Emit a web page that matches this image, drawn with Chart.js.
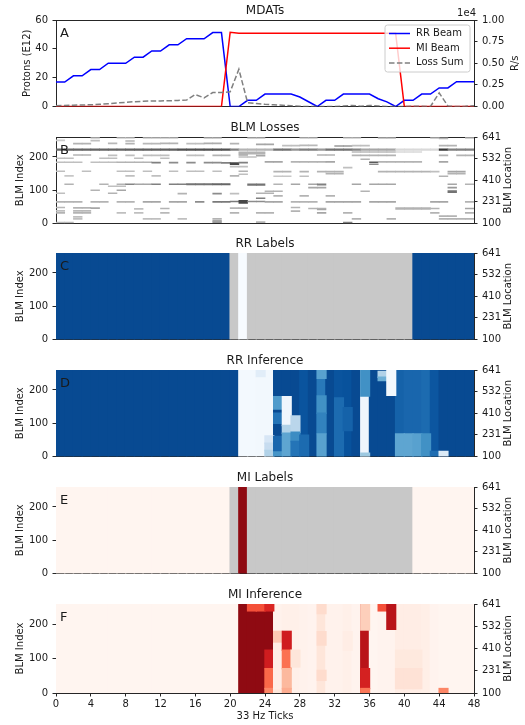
<!DOCTYPE html>
<html>
<head>
<meta charset="utf-8">
<script src="https://cdn.jsdelivr.net/npm/chart.js@4"></script>
<style>
  html, body { margin: 0; padding: 0; background: #ffffff; }
  #wrap { position: relative; width: 525px; height: 725px; overflow: hidden; }
  #wrap canvas { position: absolute; left: 0; }
</style>
</head>
<body>
<div id="wrap"></div>
<script>
// ---------------- data ----------------
const X_TICKS = [0, 4, 8, 12, 16, 20, 24, 28, 32, 36, 40, 44, 48];

// MDATs, one sample per 33 Hz tick (0..48)
const RR_BEAM = [17, 17, 21.3, 21.3, 25.6, 25.6, 30, 30, 30, 34.2, 34.2, 38.5, 38.5, 42.8, 42.8, 47, 47, 47, 51.3, 51.3,
  0, 0, 4.3, 4.3, 8.6, 8.6, 8.6, 8.6, 6.6, 3.3,
  0, 4.3, 4.3, 8.6, 8.6, 8.6, 8.6, 5.4, 3.2, 0,
  4.3, 4.3, 8.6, 8.6, 12.9, 12.9, 17.2, 17.2, 17.2];
const MI_BEAM = [0, 0, 0, 0, 0, 0, 0, 0, 0, 0, 0, 0, 0, 0, 0, 0, 0, 0, 0, 0,
  51.5, 50.8, 50.8, 50.8, 50.8, 50.8, 50.8, 50.8, 50.8, 50.8,
  50.8, 50.8, 50.8, 50.8, 50.8, 50.8, 50.8, 50.8, 50.8, 50.8,
  0, 0, 0, 0, 0, 0, 0, 0, 0];
const LOSS_SUM = [100, 120, 150, 180, 200, 250, 320, 400, 480, 560,
  600, 640, 650, 660, 700, 750, 1380, 1000, 1620, 1620,
  1700, 4300, 450, 350, 260, 200, 150, 80, 20, 0,
  0, 0, 0, 60, 120, 40, 120, 60, 0, 0,
  0, 30, 20, 0, 1570, 60, 0, 20, 100];
const PROTON_TICKS = [0, 20, 40, 60];
const RATE_TICKS = [0, 2500, 5000, 7500, 10000];

// BLM axes
const N_BLM = 260;
const BLM_INDEX_TICKS = [0, 100, 200];
const BLM_LOCATION_POS = [0, 65, 130, 195, 260];
const BLM_LOCATION_LABELS = ['100', '231', '410', '532', '641'];

// per-tick labels (null = masked tick)
const RR_LABELS = [1, 1, 1, 1, 1, 1, 1, 1, 1, 1, 1, 1, 1, 1, 1, 1, 1, 1, 1, 1,
  null, 0, null, null, null, null, null, null, null, null,
  null, null, null, null, null, null, null, null, null, null,
  null, 1, 1, 1, 1, 1, 1, 1];
const MI_LABELS = [0, 0, 0, 0, 0, 0, 0, 0, 0, 0, 0, 0, 0, 0, 0, 0, 0, 0, 0, 0,
  null, 1, null, null, null, null, null, null, null, null,
  null, null, null, null, null, null, null, null, null, null,
  null, 0, 0, 0, 0, 0, 0, 0];

// inference: column level + [tick, fromIndex, toIndex, value] bands
const RR_INF_BASE = [1, 1, 1, 1, 1, 1, 1, 1, 1, 1, 1, 1, 1, 1, 1, 1, 1, 1, 1, 1, 1,
  0.02, 0.02, 0.03, 0.03, 1, 1, 1, 0.96, 1, 0.8, 1, 0.96, 0.97, 1, 0.05,
  1, 1, 1, 0.9, 0.88, 0.88, 0.86, 0.95, 1, 1, 1, 1];
const RR_INF_BANDS = [
  [23, 240, 260, 0.12],
  [24, 40, 62, 0.18], [24, 18, 40, 0.27], [24, 0, 18, 0.35],
  [25, 143, 180, 0.65], [25, 100, 130, 0.82], [25, 14, 60, 0.88], [25, 0, 14, 0.68],
  [26, 93, 180, 0.04], [26, 70, 93, 0.35], [26, 0, 70, 0.6],
  [27, 73, 122, 0.32], [27, 45, 73, 0.72], [27, 0, 45, 0.82],
  [28, 0, 64, 0.86],
  [30, 235, 260, 0.62], [30, 130, 182, 0.7], [30, 68, 130, 0.76], [30, 0, 68, 0.62],
  [32, 0, 176, 0.86],
  [33, 78, 147, 0.9],
  [35, 182, 260, 0.7], [35, 0, 10, 0.42],
  [37, 238, 256, 0.35], [37, 228, 238, 0.55],
  [38, 184, 260, 0.03],
  [39, 0, 68, 0.6], [40, 0, 68, 0.6], [41, 0, 68, 0.62], [42, 0, 68, 0.7],
  [43, 0, 15, 0.85],
  [44, 0, 15, 0.15]
];
const MI_INF_BASE = [0, 0, 0, 0, 0, 0, 0, 0, 0, 0, 0, 0, 0, 0, 0, 0, 0, 0, 0, 0, 0,
  1, 1, 1, 1, 0.02, 0.03, 0.03, 0.02, 0.01, 0.1, 0.02, 0.02, 0.03, 0.01, 0.88,
  0, 0.01, 0.01, 0.05, 0.05, 0.05, 0.04, 0.01, 0, 0, 0, 0];
const MI_INF_BANDS = [
  [22, 240, 260, 0.62], [23, 240, 260, 0.62],
  [24, 240, 260, 0.76], [24, 71, 125, 0.8], [24, 13, 71, 0.55], [24, 0, 13, 0.45],
  [25, 145, 180, 0.22], [25, 8, 145, 0.05], [25, 0, 8, 0.1],
  [26, 125, 180, 0.8], [26, 71, 125, 0.52], [26, 13, 71, 0.28], [26, 0, 13, 0.32],
  [27, 76, 125, 0.1],
  [30, 232, 260, 0.15], [30, 140, 179, 0.15], [30, 37, 66, 0.15],
  [33, 125, 179, 0.05],
  [35, 184, 260, 0.2], [35, 13, 71, 0.78], [35, 0, 13, 0.5],
  [37, 240, 260, 0.62],
  [38, 186, 260, 0.88],
  [39, 66, 125, 0.08], [40, 66, 125, 0.08], [41, 66, 125, 0.08],
  [39, 13, 71, 0.12], [40, 13, 71, 0.12], [41, 13, 71, 0.12],
  [44, 0, 13, 0.45]
];

// BLM losses: [blmIndex, fromTick, toTick, level, thickness]
const BLM_LOSS_SEGMENTS = [
  [257,4,5,.22],[257,7,9,.2],[257,10,14,.22],[257,17,19,.25],[257,22,24,.25],[257,28,30,.22],[257,33,35,.2],
  [257,37,39,.28],[257,43,44,.25],[256,44,45,.3],[257,47,48,.25],
  [249,4,5,.25],[248,8,9,.3],[250,0,1,.2],
  [240,2,4,.3],[241,6,7,.28],[240,8,9,.3],[240,10,12,.28],[241,12,14,.3],[240,15,17,.25],[241,17,19,.32],
  [240,20,21,.3],[238,23,25,.35],[234,26,28,.25],[235,28,30,.28],[233,32,34,.4],[234,34,36,.25],[234,44,46,.3],
  [222,0,8,.6,5],[222,8,14,.62,5],[222,14,20,.68,5],[222,20,21,.5,5],[222,21,25,.3,5],[222,25,27,.55,5],
  [222,27,28,.42,5],[222,28,30,.5,5],[222,30,31,.4,5],[222,31,34,.55,5],[222,34,35,.48,5],[222,35,39,.35,5],
  [222,39,44,.15,5],[222,44,45,.78,5],[222,45,48,.5,5],
  [214,21,24,.3],[215,34,39,.28],[215,39,42,.15],
  [210,21,24,.3],[206,2,4,.3],[205,6,7,.25],[205,8,9,.25],[205,10,13,.25],[205,15,17,.25],[205,18,20,.3],
  [206,21,22,.35],[204,23,24,.35],[206,30,32,.3],[205,34,39,.3],[205,44,45,.3],[205,46,48,.3],[200,21,23,.25],
  [196,0,2,.25],[196,5,7,.25],[196,9,10,.25],[196,12,13,.25],[193,35,36,.3],
  [184,0,3,.25],[184,4,7,.25],[184,7,11,.3],[183,11,12,.5],[183,13,14,.45],[183,15,16,.45],[183,17,19,.45],
  [182,19,20,.5],[180,20,21,.72,6],[183,21,22,.5],[185,24,26,.35],[185,27,29,.3],[185,29,31,.3],[185,31,32,.35],
  [184,36,37,.65],[178,36,37,.45],[185,37,39,.3],[185,39,42,.3],[185,44,45,.35],
  [171,20,22,.25],[168,33,34,.25],
  [157,0,1,.25],[157,3,4,.25],[157,7,9,.25],[157,10,11,.25],[157,13,14,.25],[157,15,17,.25],[157,18,19,.25],
  [157,21,22,.3],[156,25,27,.3],[156,28,29,.3],[156,30,33,.3],[156,37,39,.3],[156,39,43,.3],[156,43,44,.25],
  [156,45,47,.35],
  [150,31,33,.3],[150,45,47,.3],[148,21,22,.25],
  [143,1,2,.22],[143,8,9,.25],[143,11,12,.25],[143,20,21,.3],[142,25,27,.22],[142,28,29,.25],[142,44,45,.3],
  [118,1,2,.3],[118,5,6,.3],[118,7,8,.3],[118,8,9,.48],[118,9,11,.35],[118,11,12,.5],[118,13,15,.5],
  [118,15,18,.55,4],[118,18,20,.6,4],[117,22,24,.55,5],[118,25,26,.3],[118,27,28,.35],[118,29,30,.35],
  [117,30,31,.5,4],[118,34,35,.35],[118,36,39,.35],[118,45,46,.35],[118,47,48,.3],
  [112,6,8,.25],[108,29,31,.35],[108,45,46,.4],
  [100,4,5,.3],[100,7,8,.35],[97,24,26,.3],[97,35,36,.3],[96,45,46,.55,6],
  [91,0,1,.25],[91,6,7,.3],[90,14,15,.3],[90,18,19,.45],[90,20,21,.25],[91,23,25,.3],
  [83,25,26,.3],[83,28,29,.3],[83,31,32,.3],[76,23,24,.5],
  [65,0,3,.3],[65,4,6,.3],[65,7,9,.3],[65,10,12,.35],[65,13,15,.35],[65,16,17,.45],[65,18,20,.52],
  [66,20,21,.52],[65,21,22,.72,9],[66,22,24,.45],[65,24,26,.35],[65,27,30,.3],[65,31,35,.35],[65,36,39,.35],
  [65,43,45,.35],[65,47,48,.3],
  [48,0,1,.28],[47,2,4,.3],[46,4,5,.35],[44,9,10,.25],[45,12,13,.3],[46,20,22,.3],[48,27,28,.3],[45,29,31,.3],
  [42,30,31,.35],[45,39,43,.3,5],[45,43,44,.3],[45,47,48,.35],
  [38,0,1,.25],[38,2,4,.28],[37,27,28,.3],
  [32,0,1,.3],[32,2,4,.3],[32,7,8,.25],[32,9,10,.25],[32,12,13,.28],[32,20,21,.3],[32,23,25,.3],[32,30,31,.35],
  [32,33,34,.3],[32,43,44,.3],[32,47,48,.3],
  [22,44,46,.3],[20,2,3,.25],
  [14,2,3,.25],[14,10,12,.25],[14,14,15,.25],[14,18,19,.3],[14,34,35,.3],[14,38,39,.3],[14,44,48,.3],
  [8,18,19,.35],[4,18,19,.4],[4,23,24,.3],[3,33,34,.5],[3,0,2,.28]
];

// ---------------- colour maps ----------------
const BLUES = ['#f7fbff', '#deebf7', '#c6dbef', '#9ecae1', '#6baed6', '#4292c6', '#2171b5', '#08519c', '#08306b'];
const REDS = ['#fff5f0', '#fee0d2', '#fcbba1', '#fc9272', '#fb6a4a', '#ef3b2c', '#cb181d', '#a50f15', '#67000d'];
const MASKED = '#c8c8c8';

function hexToRgb(h) { return [1, 3, 5].map(i => parseInt(h.substr(i, 2), 16)); }
function ramp(stops, t) {
  t = Math.max(0, Math.min(1, t));
  const p = t * (stops.length - 1), i = Math.min(Math.floor(p), stops.length - 2), f = p - i;
  const a = hexToRgb(stops[i]), b = hexToRgb(stops[i + 1]);
  return 'rgb(' + a.map((v, k) => Math.round(v + (b[k] - v) * f)).join(',') + ')';
}
const bluesColor = v => v == null ? MASKED : ramp(BLUES, v * 0.9);
const redsColor = v => v == null ? MASKED : ramp(REDS, v * 0.92);
const greyColor = v => { const g = Math.round(255 * (1 - v)); return `rgb(${g},${g},${g})`; };

// ---------------- cell builders ----------------
function columnCells(base, bands) {
  const cells = [];
  base.forEach((v, c) => cells.push({ x: c + 0.5, y: [0, N_BLM], v }));
  bands.forEach(([c, r0, r1, v]) => cells.push({ x: c + 0.5, y: [r0, r1], v }));
  return cells;
}
function segmentCells(segs) {
  const cells = [];
  segs.forEach(([row, c0, c1, v, h = 3]) => {
    for (let c = c0; c < c1; c++) cells.push({ x: c + 0.5, y: [row - h / 2, row + h / 2], v });
  });
  return cells;
}

// ---------------- drawing helpers ----------------
const FONT = '"DejaVu Sans", sans-serif';
const INK = '#1a1a1a';
const SPINE = '#262626';
Chart.defaults.font.family = FONT;
Chart.defaults.font.size = 10;
Chart.defaults.color = INK;

function rotatedText(ctx, text, x, y) {
  ctx.save();
  ctx.translate(x, y);
  ctx.rotate(-Math.PI / 2);
  ctx.textAlign = 'center';
  ctx.textBaseline = 'middle';
  ctx.fillText(text, 0, 0);
  ctx.restore();
}

const decor = {
  id: 'decor',
  afterDraw(chart, args, o) {
    const { ctx, chartArea: a } = chart;
    ctx.save();
    ctx.fillStyle = INK;
    ctx.textBaseline = 'alphabetic';
    ctx.textAlign = 'center';
    ctx.font = `12px ${FONT}`;
    ctx.fillText(o.title, (a.left + a.right) / 2, a.top - 6);
    ctx.textAlign = 'left';
    ctx.font = `13px ${FONT}`;
    ctx.fillText(o.letter, a.left + 4, a.top + 16.5);
    ctx.font = `10px ${FONT}`;
    rotatedText(ctx, o.leftTitle, o.leftTitleX, (a.top + a.bottom) / 2);
    rotatedText(ctx, o.rightTitle, o.rightTitleX, (a.top + a.bottom) / 2);
    if (o.offsetText) {
      ctx.textAlign = 'right';
      ctx.fillText(o.offsetText, a.right + 2, a.top - 4);
    }
    if (o.xTitle) {
      ctx.textAlign = 'center';
      ctx.fillText(o.xTitle, (a.left + a.right) / 2, a.bottom + 26);
    }
    ctx.restore();
  }
};

const beamLegend = {
  id: 'beamLegend',
  afterDatasetsDraw(chart) {
    const { ctx, chartArea: a } = chart;
    const w = 85, h = 47, x = a.right - w - 4, y = a.top + 5, r = 2.5;
    ctx.save();
    ctx.beginPath();
    ctx.moveTo(x + r, y);
    ctx.arcTo(x + w, y, x + w, y + h, r);
    ctx.arcTo(x + w, y + h, x, y + h, r);
    ctx.arcTo(x, y + h, x, y, r);
    ctx.arcTo(x, y, x + w, y, r);
    ctx.closePath();
    ctx.fillStyle = 'rgba(255,255,255,0.8)';
    ctx.fill();
    ctx.strokeStyle = '#cccccc';
    ctx.lineWidth = 1;
    ctx.stroke();
    chart.data.datasets.forEach((ds, i) => {
      const cy = y + 8.5 + i * 14.7;
      ctx.strokeStyle = ds.borderColor;
      ctx.lineWidth = ds.borderWidth;
      ctx.setLineDash(ds.borderDash || []);
      ctx.beginPath();
      ctx.moveTo(x + 4, cy);
      ctx.lineTo(x + 25, cy);
      ctx.stroke();
      ctx.setLineDash([]);
      ctx.fillStyle = INK;
      ctx.font = `10px ${FONT}`;
      ctx.textAlign = 'left';
      ctx.textBaseline = 'middle';
      ctx.fillText(ds.label, x + 31, cy);
    });
    ctx.restore();
  }
};

// ---------------- layout ----------------
const PANEL_TOPS = [20, 137, 253, 370, 487, 604];
const PANEL_H = 89;
const LEFT_W = 56, RIGHT_W = 51;
const wrap = document.getElementById('wrap');

function makeCanvas(i) {
  const last = i === PANEL_TOPS.length - 1;
  const c = document.createElement('canvas');
  c.width = 525;
  c.height = 20 + PANEL_H + (last ? 32 : 8);
  c.style.top = (PANEL_TOPS[i] - 20) + 'px';
  wrap.appendChild(c);
  return c;
}

function fixedTicks(values) { return s => { s.ticks = values.map(v => ({ value: v })); }; }

function buildScales(last, left, right) {
  return {
    x: {
      type: 'linear', min: 0, max: 48, offset: false,
      afterBuildTicks: fixedTicks(X_TICKS),
      grid: { display: last, drawOnChartArea: false, drawTicks: last, tickLength: 3.5, tickColor: SPINE, offset: false },
      border: { display: true, color: SPINE, width: 1 },
      ticks: { display: last, padding: 2, maxRotation: 0, autoSkip: false, font: { size: 10 } },
      afterFit: s => { s.height = last ? 32 : 0; }
    },
    xTop: {
      type: 'linear', position: 'top', min: 0, max: 48, offset: false,
      grid: { display: false, drawTicks: false },
      border: { display: true, color: SPINE, width: 1 },
      ticks: { display: false },
      afterFit: s => { s.height = 0; }
    },
    y: {
      position: 'left', min: left.min, max: left.max,
      afterBuildTicks: fixedTicks(left.ticks),
      grid: { drawOnChartArea: false, drawTicks: true, tickLength: 3.5, tickColor: SPINE },
      border: { display: true, color: SPINE, width: 1 },
      ticks: { padding: 4.5, autoSkip: false, font: { size: 10 } },
      afterFit: s => { s.width = LEFT_W; }
    },
    y2: {
      position: 'right', min: right.min, max: right.max,
      afterBuildTicks: fixedTicks(right.ticks),
      grid: { drawOnChartArea: false, drawTicks: true, tickLength: 3.5, tickColor: SPINE },
      border: { display: true, color: SPINE, width: 1 },
      ticks: { padding: 4.5, autoSkip: false, font: { size: 10 }, callback: right.label },
      afterFit: s => { s.width = RIGHT_W; }
    }
  };
}

const baseOptions = (last) => ({
  responsive: false, animation: false, events: [],
  layout: { padding: { top: 20, bottom: last ? 0 : 8, left: 0, right: 0 } },
  plugins: { legend: { display: false }, tooltip: { enabled: false } }
});

// ---------------- panel A: beam intensities and loss sum ----------------
(function () {
  const opts = baseOptions(false);
  opts.scales = buildScales(false,
    { min: 0, max: 60, ticks: PROTON_TICKS },
    { min: 0, max: 10000, ticks: RATE_TICKS, label: v => (v / 10000).toFixed(2) });
  opts.plugins.decor = {
    title: 'MDATs', letter: 'A', leftTitle: 'Protons (E12)', leftTitleX: 27,
    rightTitle: 'R/s', rightTitleX: 515, offsetText: '1e4'
  };
  new Chart(makeCanvas(0), {
    type: 'line',
    data: {
      datasets: [
        { label: 'RR Beam', data: RR_BEAM.map((v, i) => ({ x: i, y: v })), borderColor: '#0000ff',
          borderWidth: 1.5, pointRadius: 0, tension: 0, yAxisID: 'y', order: 2 },
        { label: 'MI Beam', data: MI_BEAM.map((v, i) => ({ x: i, y: v })), borderColor: '#ff0000',
          borderWidth: 1.5, pointRadius: 0, tension: 0, yAxisID: 'y', order: 1 },
        { label: 'Loss Sum', data: LOSS_SUM.map((v, i) => ({ x: i, y: v })), borderColor: '#808080',
          borderWidth: 1.5, borderDash: [5.5, 2.4], pointRadius: 0, tension: 0, yAxisID: 'y2', order: 0 }
      ]
    },
    options: opts,
    plugins: [decor, beamLegend]
  });
})();

// ---------------- panels B-F: BLM maps ----------------
const HEAT_PANELS = [
  { title: 'BLM Losses', letter: 'B', cells: segmentCells(BLM_LOSS_SEGMENTS), color: greyColor, inflate: 0.33 },
  { title: 'RR Labels', letter: 'C', cells: columnCells(RR_LABELS, []), color: bluesColor, inflate: 0.7 },
  { title: 'RR Inference', letter: 'D', cells: columnCells(RR_INF_BASE, RR_INF_BANDS), color: bluesColor, inflate: 0.7 },
  { title: 'MI Labels', letter: 'E', cells: columnCells(MI_LABELS, []), color: redsColor, inflate: 0.7 },
  { title: 'MI Inference', letter: 'F', cells: columnCells(MI_INF_BASE, MI_INF_BANDS), color: redsColor, inflate: 0.7,
    xTitle: '33 Hz Ticks' }
];

HEAT_PANELS.forEach((p, k) => {
  const i = k + 1;
  const last = i === PANEL_TOPS.length - 1;
  const opts = baseOptions(last);
  opts.scales = buildScales(last,
    { min: 0, max: N_BLM, ticks: BLM_INDEX_TICKS },
    { min: 0, max: N_BLM, ticks: BLM_LOCATION_POS, label: v => BLM_LOCATION_LABELS[BLM_LOCATION_POS.indexOf(v)] });
  opts.plugins.decor = {
    title: p.title, letter: p.letter, leftTitle: 'BLM Index', leftTitleX: 20.5,
    rightTitle: 'BLM Location', rightTitleX: 508, xTitle: p.xTitle
  };
  new Chart(makeCanvas(i), {
    type: 'bar',
    data: {
      datasets: [{
        data: p.cells,
        backgroundColor: ctx => (ctx.raw ? p.color(ctx.raw.v) : '#000'),
        borderWidth: 0, borderSkipped: false, inflateAmount: p.inflate,
        barPercentage: 1, categoryPercentage: 1
      }]
    },
    options: opts,
    plugins: [decor]
  });
});
</script>
</body>
</html>
